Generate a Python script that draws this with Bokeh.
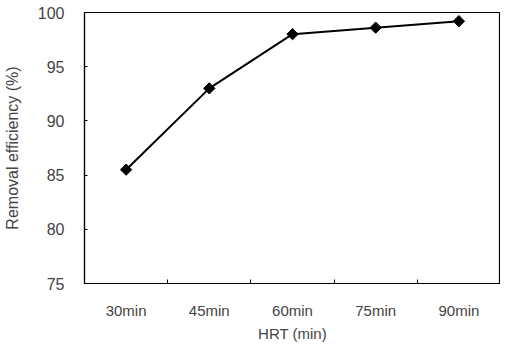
import math
from bokeh.plotting import figure
from bokeh.models import Range1d, FixedTicker, ColumnDataSource
from bokeh.embed import file_html
from bokeh.resources import INLINE

categories = ["30min", "45min", "60min", "75min", "90min"]
removal = [85.5, 93.0, 98.0, 98.6, 99.2]
y_ticks = [75, 80, 85, 90, 95, 100]

xpos = [i + 0.5 for i in range(len(categories))]
src = ColumnDataSource(dict(x=xpos, y=removal, cat=categories))

p = figure(width=500, height=344, output_backend="svg", toolbar_location=None,
           x_range=Range1d(0, len(categories)), y_range=Range1d(75, 100),
           min_border_left=84, min_border_right=0, min_border_top=12, min_border_bottom=55)
p.xgrid.visible = False
p.ygrid.visible = False
p.outline_line_color = "black"
p.outline_line_width = 1.2
p.background_fill_color = "white"
p.border_fill_color = "white"

p.line("x", "y", source=src, line_color="black", line_width=2)
p.scatter("x", "y", source=src, marker="square", angle=math.pi / 4, size=8,
          fill_color="black", line_color="black")

font = "Liberation Sans"
xa = p.xaxis[0]
xa.ticker = FixedTicker(ticks=xpos, minor_ticks=[1, 2, 3, 4])
xa.major_label_overrides = {x: c for x, c in zip(xpos, categories)}
xa.major_tick_line_color = None
xa.minor_tick_in = 4
xa.minor_tick_out = 0
xa.minor_tick_line_color = "black"
xa.axis_label = "HRT (min)"
xa.axis_label_text_font = font
xa.axis_label_text_font_size = "15px"
xa.axis_label_text_font_style = "normal"
xa.axis_label_standoff = 3
xa.major_label_text_font = font
xa.major_label_text_font_size = "15px"
xa.major_label_standoff = 12
xa.axis_line_color = "black"
xa.axis_line_width = 1.2

ya = p.yaxis[0]
ya.ticker = FixedTicker(ticks=y_ticks)
ya.major_tick_in = 3
ya.major_tick_out = 0
ya.minor_tick_line_color = None
ya.axis_label = "Removal efficiency (%)"
ya.axis_label_text_font = font
ya.axis_label_text_font_size = "16px"
ya.axis_label_text_font_style = "normal"
ya.axis_label_standoff = 14
ya.major_label_text_font = font
ya.major_label_text_font_size = "16px"
ya.major_label_standoff = 20
ya.axis_line_color = "black"
ya.axis_line_width = 1.2

open("out.html", "w").write(file_html(p, INLINE))
